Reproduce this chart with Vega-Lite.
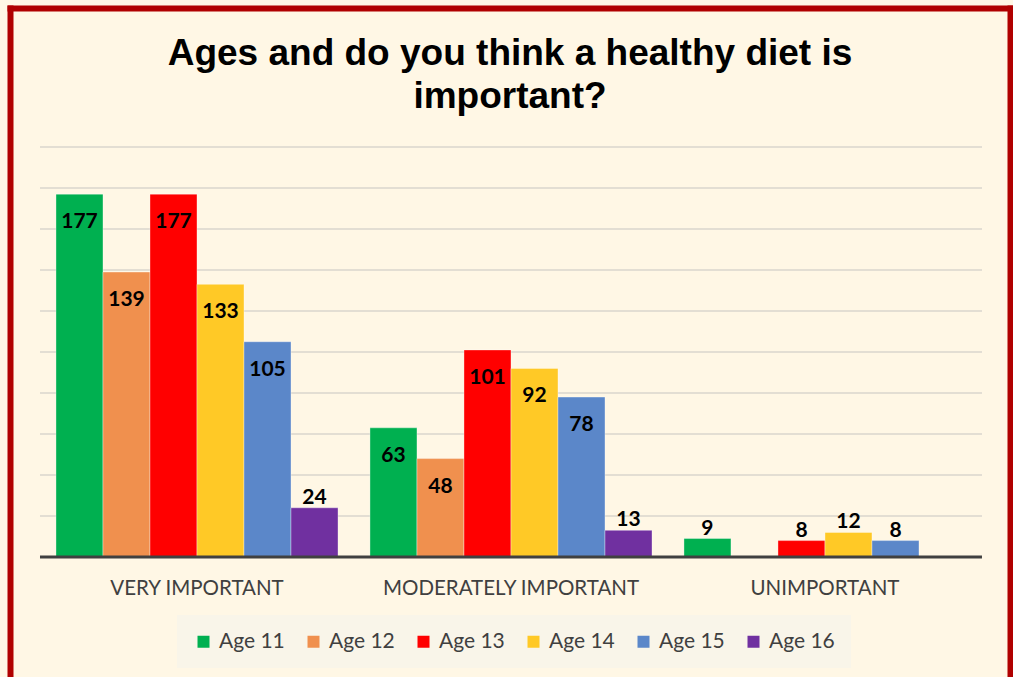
{
  "$schema": "https://vega.github.io/schema/vega-lite/v6.json",
  "width": 1000,
  "height": 669,
  "autosize": {"type": "none"},
  "padding": {"left": 10, "top": 8, "right": 3, "bottom": 0},
  "background": "#FFF7E5",
  "config": {"view": {"stroke": null}},
  "title": {
    "text": ["Ages and do you think a healthy diet is", "important?"],
    "font": "Liberation Sans",
    "fontSize": 37,
    "fontWeight": "bold",
    "color": "#000000",
    "anchor": "middle",
    "frame": "group",
    "baseline": "alphabetic",
    "lineHeight": 43,
    "offset": -137
  },
  "datasets": {
    "main": [
      {"importance": "VERY IMPORTANT", "age": "Age 11", "count": 177},
      {"importance": "VERY IMPORTANT", "age": "Age 12", "count": 139},
      {"importance": "VERY IMPORTANT", "age": "Age 13", "count": 177},
      {"importance": "VERY IMPORTANT", "age": "Age 14", "count": 133},
      {"importance": "VERY IMPORTANT", "age": "Age 15", "count": 105},
      {"importance": "VERY IMPORTANT", "age": "Age 16", "count": 24},
      {"importance": "MODERATELY IMPORTANT", "age": "Age 11", "count": 63},
      {"importance": "MODERATELY IMPORTANT", "age": "Age 12", "count": 48},
      {"importance": "MODERATELY IMPORTANT", "age": "Age 13", "count": 101},
      {"importance": "MODERATELY IMPORTANT", "age": "Age 14", "count": 92},
      {"importance": "MODERATELY IMPORTANT", "age": "Age 15", "count": 78},
      {"importance": "MODERATELY IMPORTANT", "age": "Age 16", "count": 13},
      {"importance": "UNIMPORTANT", "age": "Age 11", "count": 9},
      {"importance": "UNIMPORTANT", "age": "Age 13", "count": 8},
      {"importance": "UNIMPORTANT", "age": "Age 14", "count": 12},
      {"importance": "UNIMPORTANT", "age": "Age 15", "count": 8}
    ],
    "grid": [
      {"g": 20}, {"g": 40}, {"g": 60}, {"g": 80}, {"g": 100},
      {"g": 120}, {"g": 140}, {"g": 160}, {"g": 180}, {"g": 200}
    ],
    "base": [{"g": 0}]
  },
  "layer": [
    {
      "data": {"name": "grid"},
      "mark": {"type": "rule", "color": "#E3DED3", "strokeWidth": 2},
      "encoding": {
        "y": {"field": "g", "type": "quantitative", "axis": null,
              "scale": {"domain": [-58.54, 267.8], "nice": false, "zero": false}},
        "x": {"datum": "VERY IMPORTANT", "type": "nominal", "bandPosition": 0, "axis": null,
              "scale": {"domain": ["VERY IMPORTANT", "MODERATELY IMPORTANT", "UNIMPORTANT"], "paddingInner": 0, "paddingOuter": 0.0924, "align": 0.517}},
        "x2": {"datum": "UNIMPORTANT", "bandPosition": 1}
      }
    },
    {
      "data": {"name": "main"},
      "mark": {"type": "bar", "stroke": "#FFFFFF", "strokeOpacity": 0.35, "strokeWidth": 1},
      "encoding": {
        "x": {"field": "importance", "type": "nominal",
              "scale": {"domain": ["VERY IMPORTANT", "MODERATELY IMPORTANT", "UNIMPORTANT"], "paddingInner": 0, "paddingOuter": 0.0924, "align": 0.517},
              "axis": {"orient": "bottom", "offset": -120, "domain": false, "ticks": false, "grid": false,
                       "labelAngle": 0, "labelPadding": 21, "labelLimit": 0, "labelFont": "Lato", "labelFontSize": 20.5,
                       "labelColor": "#404040", "title": null}},
        "xOffset": {"field": "age", "type": "nominal",
                    "scale": {"domain": ["Age 11", "Age 12", "Age 13", "Age 14", "Age 15", "Age 16"], "paddingInner": 0, "paddingOuter": 0.34}},
        "y": {"field": "count", "type": "quantitative",
              "scale": {"domain": [-58.54, 267.8], "nice": false, "zero": false},
              "axis": {"orient": "left", "domain": true, "domainColor": "#B00000", "domainWidth": 6, "domainCap": "square",
                       "labels": false, "ticks": false, "grid": false, "title": null}},
        "y2": {"datum": 0},
        "color": {"field": "age", "type": "nominal",
                  "scale": {"domain": ["Age 11", "Age 12", "Age 13", "Age 14", "Age 15", "Age 16"],
                            "range": ["#00B050", "#F0904E", "#FF0000", "#FFC926", "#5B87C9", "#7030A0"]},
                  "legend": {"orient": "none", "legendX": 167, "legendY": 607, "direction": "horizontal", "columns": 6,
                             "title": null, "fillColor": "#F9F5E9", "padding": 16, "symbolType": "square",
                             "symbolSize": 144, "symbolStrokeWidth": 0, "labelFont": "Lato", "labelFontSize": 21,
                             "labelColor": "#404040", "labelOffset": 5, "columnPadding": 18}}
      }
    },
    {
      "data": {"name": "base"},
      "mark": {"type": "rule", "color": "#404040", "strokeWidth": 3},
      "encoding": {
        "y": {"field": "g", "type": "quantitative", "axis": null,
              "scale": {"domain": [-58.54, 267.8], "nice": false, "zero": false}},
        "x": {"datum": "VERY IMPORTANT", "type": "nominal", "bandPosition": 0, "axis": null,
              "scale": {"domain": ["VERY IMPORTANT", "MODERATELY IMPORTANT", "UNIMPORTANT"], "paddingInner": 0, "paddingOuter": 0.0924, "align": 0.517}},
        "x2": {"datum": "UNIMPORTANT", "bandPosition": 1}
      }
    },
    {
      "data": {"name": "main"},
      "transform": [{"filter": "datum.count >= 30"}],
      "mark": {"type": "text", "font": "Lato", "fontSize": 21, "fontWeight": "bold", "color": "#000000", "baseline": "middle", "dy": 28},
      "encoding": {
        "x": {"field": "importance", "type": "nominal",
              "scale": {"domain": ["VERY IMPORTANT", "MODERATELY IMPORTANT", "UNIMPORTANT"], "paddingInner": 0, "paddingOuter": 0.0924, "align": 0.517},
              "axis": {"orient": "top", "domain": true, "domainColor": "#B00000", "domainWidth": 6, "domainCap": "square",
                       "labels": false, "ticks": false, "grid": false, "title": null}},
        "xOffset": {"field": "age", "type": "nominal",
                    "scale": {"domain": ["Age 11", "Age 12", "Age 13", "Age 14", "Age 15", "Age 16"], "paddingInner": 0, "paddingOuter": 0.34}},
        "y": {"field": "count", "type": "quantitative",
              "scale": {"domain": [-58.54, 267.8], "nice": false, "zero": false},
              "axis": {"orient": "right", "domain": true, "domainColor": "#B00000", "domainWidth": 6, "domainCap": "square",
                       "labels": false, "ticks": false, "grid": false, "title": null}},
        "text": {"field": "count", "type": "quantitative"}
      }
    },
    {
      "data": {"name": "main"},
      "transform": [{"filter": "datum.count < 30"}],
      "mark": {"type": "text", "font": "Lato", "fontSize": 21, "fontWeight": "bold", "color": "#000000", "baseline": "middle", "dy": -10},
      "encoding": {
        "x": {"field": "importance", "type": "nominal", "axis": null,
              "scale": {"domain": ["VERY IMPORTANT", "MODERATELY IMPORTANT", "UNIMPORTANT"], "paddingInner": 0, "paddingOuter": 0.0924, "align": 0.517}},
        "xOffset": {"field": "age", "type": "nominal",
                    "scale": {"domain": ["Age 11", "Age 12", "Age 13", "Age 14", "Age 15", "Age 16"], "paddingInner": 0, "paddingOuter": 0.34}},
        "y": {"field": "count", "type": "quantitative", "axis": null,
              "scale": {"domain": [-58.54, 267.8], "nice": false, "zero": false}},
        "text": {"field": "count", "type": "quantitative"}
      }
    }
  ],
  "resolve": {"axis": {"x": "independent", "y": "independent"}}
}
